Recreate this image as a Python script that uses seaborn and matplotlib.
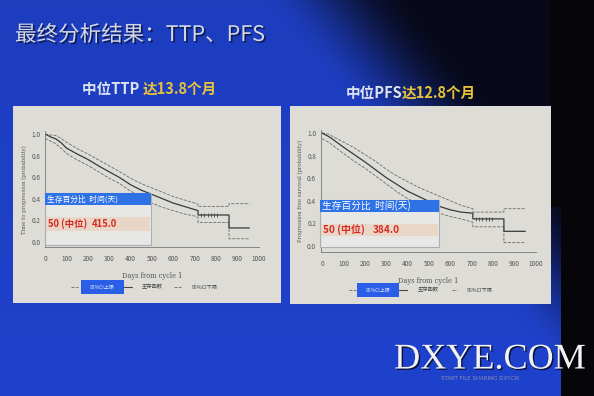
import numpy as np
import pandas as pd
import matplotlib
matplotlib.use("Agg")
import matplotlib.pyplot as plt
import matplotlib.patheffects as pe
from matplotlib.patches import Rectangle
import seaborn as sns

# ---------------- data ----------------
ttp_days = [0, 30, 50, 75, 100, 150, 200, 250, 300, 350, 400, 450, 500, 550,
            600, 650, 700, 715, 715, 860, 860, 955]
ttp_surv = [1.0, 0.97, 0.955, 0.92, 0.87, 0.815, 0.765, 0.705, 0.65, 0.595,
            0.53, 0.48, 0.44, 0.40, 0.36, 0.33, 0.30, 0.29, 0.25, 0.25, 0.13, 0.13]
ttp_upper = [1.0, 0.99, 0.985, 0.96, 0.925, 0.865, 0.815, 0.76, 0.705, 0.65,
             0.59, 0.54, 0.50, 0.46, 0.42, 0.39, 0.36, 0.35, 0.33, 0.33, 0.355, 0.355]
ttp_lower = [0.96, 0.93, 0.91, 0.87, 0.82, 0.76, 0.71, 0.65, 0.59, 0.54,
             0.47, 0.42, 0.36, 0.32, 0.29, 0.26, 0.24, 0.23, 0.18, 0.18, 0.03, 0.03]
ttp_censor_days = [730, 745, 760, 775, 790, 805]
ttp_censor_surv = [0.25, 0.25, 0.25, 0.25, 0.25, 0.25]

pfs_days = [0, 30, 50, 100, 150, 200, 250, 300, 350, 400, 450, 500, 550, 600,
            650, 705, 705, 850, 850, 950]
pfs_surv = [1.0, 0.97, 0.945, 0.875, 0.81, 0.745, 0.675, 0.605, 0.545, 0.485,
            0.44, 0.395, 0.35, 0.32, 0.30, 0.29, 0.24, 0.24, 0.13, 0.13]
pfs_upper = [1.0, 0.99, 0.97, 0.92, 0.87, 0.81, 0.75, 0.68, 0.62, 0.57,
             0.52, 0.48, 0.44, 0.40, 0.36, 0.33, 0.30, 0.30, 0.33, 0.33]
pfs_lower = [0.95, 0.92, 0.89, 0.82, 0.75, 0.69, 0.62, 0.55, 0.48, 0.42,
             0.37, 0.33, 0.29, 0.26, 0.24, 0.21, 0.17, 0.17, 0.03, 0.03]
pfs_censor_days = [720, 735, 750, 765, 780, 795]
pfs_censor_surv = [0.24, 0.24, 0.24, 0.24, 0.24, 0.24]

x_ticks = [0, 100, 200, 300, 400, 500, 600, 700, 800, 900, 1000]
y_ticks = [0.0, 0.2, 0.4, 0.6, 0.8, 1.0]

title_text = "最终分析结果：TTP、PFS"
sub_left = ("中位TTP ", "达13.8个月")
sub_right = ("中位PFS", "达12.8个月")
box_header = "生存百分比  时间(天)"
box_left_row = ("50 (中位)", "415.0")
box_right_row = ("50 (中位)", "384.0")
legend_labels = ["95%CI上限", "生存函数", "95%CI下限"]
ylabel_left = "Time to progression (probability)"
ylabel_right = "Progression free survival (probability)"
xlabel = "Days from cycle 1"

# ---------------- style ----------------
sns.set_style("white")
CJK = ["Noto Sans CJK SC", "DejaVu Sans"]
plt.rcParams["font.family"] = CJK

W, H = 594, 396
fig = plt.figure(figsize=(W / 100, H / 100), dpi=100)

# background axes (pixel coords)
bg = fig.add_axes([0, 0, 1, 1], zorder=0)
bg.set_xlim(0, W); bg.set_ylim(H, 0); bg.axis("off")
yy, xx = np.mgrid[0:H, 0:W]
t = np.clip((xx - (260 + 0.8 * yy)) / 150.0, 0, 1)
t = t * t * (3 - 2 * t)
base = np.array([31, 66, 205]) / 255.0
dark = np.array([8, 10, 28]) / 255.0
img = base[None, None, :] * (1 - t[..., None]) + dark[None, None, :] * t[..., None]
img *= (0.93 + 0.07 * (yy / H))[..., None]
blk = (xx > 560) | ((xx > 549) & (yy < 207))
img[blk] = np.array([5, 5, 10]) / 255.0
bg.imshow(img, extent=(0, W, H, 0), aspect="auto", interpolation="bilinear")

panel_col = "#dddcd6"
bg.add_patch(Rectangle((13, 106), 268, 197, facecolor=panel_col, edgecolor="none"))
bg.add_patch(Rectangle((290, 106), 261, 198, facecolor=panel_col, edgecolor="none"))

# title
bg.text(15, 35, title_text, fontsize=15.5, color="#d4d8e4", va="center", ha="left",
        family=CJK,
        path_effects=[pe.withSimplePatchShadow(offset=(1.2, -1.2), shadow_rgbFace="#0a1440", alpha=0.8)])

# subtitles
def two_color(xsplit, y, parts):
    bg.text(xsplit, y, parts[0], fontsize=10.5, fontweight="bold", color="#dde2f0",
            ha="right", va="center", family=CJK)
    bg.text(xsplit, y, parts[1], fontsize=10.5, fontweight="bold", color="#e6c23a",
            ha="left", va="center", family=CJK)

two_color(143, 89, sub_left)
two_color(402, 93, sub_right)

# watermark
bg.text(490, 360, "DXYE.COM", fontsize=26, color="#f2f2f2", ha="center", va="center",
        family="Liberation Serif",
        path_effects=[pe.withSimplePatchShadow(offset=(1, -1), shadow_rgbFace="#000000", alpha=0.7)])
bg.text(480, 379, "START FILE SHARING DXY.CN", fontsize=4, color="#8890b0", ha="center",
        va="center", family="DejaVu Sans")

# ---------------- chart axes ----------------
def make_ax(x0, x1000, y0, y1, ylo, yhi, xlo):
    ppu = y0 - y1
    ppx = (x1000 - x0) / 1000.0
    left = x0 + xlo * ppx
    bottom = y0 - ylo * ppu
    top = y1 - (yhi - 1) * ppu
    ax = fig.add_axes([left / W, 1 - bottom / H, (x1000 - left) / W, (bottom - top) / H], zorder=5)
    ax.set_facecolor("none")
    ax.set_xlim(xlo, 1000); ax.set_ylim(ylo, yhi)
    return ax

def draw_km(ax, days, surv, upper, lower, cd, cs, ylabel):
    df = pd.DataFrame({"day": days, "surv": surv, "upper": upper, "lower": lower})
    sns.lineplot(data=df, x="day", y="upper", ax=ax, sort=False, estimator=None,
                 color="#6a6a6a", lw=0.6, linestyle="--")
    sns.lineplot(data=df, x="day", y="lower", ax=ax, sort=False, estimator=None,
                 color="#6a6a6a", lw=0.6, linestyle="--")
    sns.lineplot(data=df, x="day", y="surv", ax=ax, sort=False, estimator=None,
                 color="#3a3a3a", lw=0.9)
    sns.scatterplot(x=cd, y=cs, ax=ax, marker="|", s=8, color="#333333", linewidth=0.5)
    for s in ["top", "right"]:
        ax.spines[s].set_visible(False)
    for s in ["left", "bottom"]:
        ax.spines[s].set_color("#777777"); ax.spines[s].set_linewidth(0.6)
    ax.set_xticks(x_ticks)
    ax.set_xticklabels([str(v) for v in x_ticks])
    ax.set_yticks(y_ticks)
    ax.set_yticklabels([f"{v:.1f}" for v in y_ticks])
    ax.tick_params(axis="both", direction="out", length=2, width=0.5, colors="#777777",
                   labelsize=4.6, labelcolor="#555555", pad=1.5)
    ax.tick_params(axis="x", pad=4)
    ax.set_xlabel(xlabel, fontsize=4.8, color="#555555", labelpad=6, family="DejaVu Serif")
    ax.set_ylabel(ylabel, fontsize=3.8, color="#555555", labelpad=3, family="DejaVu Serif")

axL = make_ax(45, 259, 242, 134, -0.046, 1.025, 0)
draw_km(axL, ttp_days, ttp_surv, ttp_upper, ttp_lower, ttp_censor_days, ttp_censor_surv, ylabel_left)
axR = make_ax(322, 536, 246, 133, -0.053, 1.027, -5)
draw_km(axR, pfs_days, pfs_surv, pfs_upper, pfs_lower, pfs_censor_days, pfs_censor_surv, ylabel_right)

# ---------------- foreground overlays (pixel coords) ----------------
fg = fig.add_axes([0, 0, 1, 1], zorder=10)
fg.set_xlim(0, W); fg.set_ylim(H, 0); fg.axis("off"); fg.set_facecolor("none")

def overlay(x0, x1, y0, y1, hy1, py0, py1, hsize, row, rowx2, rsize):
    fg.add_patch(Rectangle((x0, y0), x1 - x0, y1 - y0, facecolor="#e8e8e6", edgecolor="#a8acb4",
                           lw=0.8, alpha=0.96))
    fg.add_patch(Rectangle((x0, y0), x1 - x0, hy1 - y0, facecolor="#2f72e6", edgecolor="none"))
    fg.add_patch(Rectangle((x0 + 1, py0), x1 - x0 - 2, py1 - py0, facecolor="#e9d6c6", edgecolor="none"))
    fg.text(x0 + 2, (y0 + hy1) / 2, box_header, fontsize=hsize, color="white", va="center",
            ha="left", family=CJK)
    fg.text(x0 + 3, (py0 + py1) / 2, row[0], fontsize=rsize, color="#d42a20", fontweight="bold",
            va="center", ha="left", family=CJK)
    fg.text(rowx2, (py0 + py1) / 2, row[1], fontsize=rsize, color="#d42a20", fontweight="bold",
            va="center", ha="left", family=CJK)

overlay(45, 151, 193, 245, 205, 217, 231, 5.6, box_left_row, 92, 6.8)
overlay(320, 439, 200, 247, 212, 224, 236, 7.0, box_right_row, 373, 7.2)

def legend(yc, dash1, rect, solid, t2x, dash2, t3x):
    fg.plot(dash1, [yc, yc], color="#666666", lw=0.6, linestyle="--")
    fg.add_patch(Rectangle((rect[0], yc - 7), rect[1] - rect[0], 14, facecolor="#2a5ee6",
                           edgecolor="none"))
    fg.text((rect[0] + rect[1]) / 2, yc, legend_labels[0], fontsize=3.6, color="#dde6ff",
            ha="center", va="center", family=CJK)
    fg.plot(solid, [yc, yc], color="#444444", lw=0.8)
    fg.text(t2x, yc, legend_labels[1], fontsize=3.8, color="#444444", ha="left", va="center",
            family=CJK)
    fg.plot(dash2, [yc, yc], color="#666666", lw=0.6, linestyle="--")
    fg.text(t3x, yc, legend_labels[2], fontsize=3.8, color="#444444", ha="left", va="center",
            family=CJK)

legend(287, [71, 78], [81, 124], [124, 132], 142, [174, 181], 192)
legend(290, [349, 356], [357, 399], [399, 407], 418, [452, 457], 467)

fig.savefig("out.png", dpi=100)
